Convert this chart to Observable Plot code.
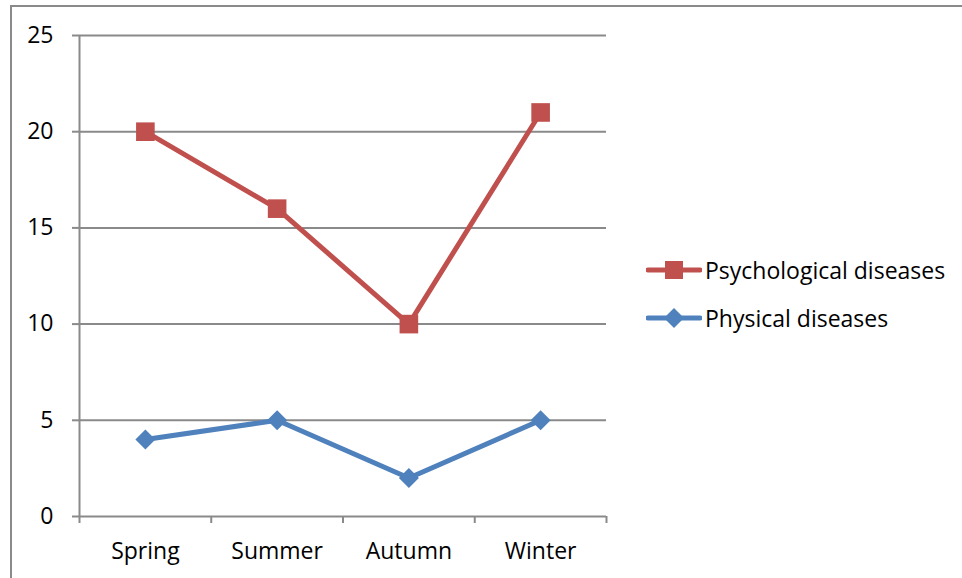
<!DOCTYPE html>
<html>
<head>
<meta charset="utf-8">
<script src="https://cdn.jsdelivr.net/npm/d3@7"></script>
<script src="https://cdn.jsdelivr.net/npm/@observablehq/plot@0.6"></script>
<style>
  html, body { margin: 0; padding: 0; background: #fff; }
  #wrap { position: relative; width: 962px; height: 578px; overflow: hidden; font-family: "Open Sans", sans-serif; }
  #frame { position: absolute; left: 10px; top: 5px; width: 1000px; height: 1000px; border-left: 2px solid #8a8a8a; border-top: 2px solid #8a8a8a; box-sizing: border-box; }
  #chart { position: absolute; left: 0; top: 0; }
  #legend { position: absolute; left: 646px; top: 246px; font-size: 23px; color: #000; }
  .item { display: flex; align-items: center; height: 48px; }
  .item svg { margin-right: 3px; }
</style>
</head>
<body>
<div id="wrap">
  <div id="frame"></div>
  <div id="chart"></div>
  <div id="legend"></div>
</div>
<script>
const categories = ["Spring", "Summer", "Autumn", "Winter"];
const psychological = [20, 16, 10, 21];
const physical = [4, 5, 2, 5];
const yTicks = [0, 5, 10, 15, 20, 25];
const seriesNames = ["Psychological diseases", "Physical diseases"];
const seriesColors = ["#C0504D", "#4F81BD"];

const rows = [];
categories.forEach((c, i) => {
  rows.push({cat: c, pos: i + 0.5, value: psychological[i], series: seriesNames[0]});
});
categories.forEach((c, i) => {
  rows.push({cat: c, pos: i + 0.5, value: physical[i], series: seriesNames[1]});
});
const psy = rows.filter(d => d.series === seriesNames[0]);
const phy = rows.filter(d => d.series === seriesNames[1]);
const boundaries = d3.range(categories.length + 1);
const centers = categories.map((c, i) => i + 0.5);

const chart = Plot.plot({
  width: 962,
  height: 578,
  marginLeft: 79,
  marginRight: 356,
  marginTop: 35,
  marginBottom: 62,
  style: {fontFamily: "Open Sans, sans-serif", fontSize: "23px", color: "#000", background: "transparent"},
  x: {type: "linear", domain: [0, categories.length]},
  y: {domain: [0, 25]},
  marks: [
    Plot.gridY(yTicks, {stroke: "#8a8a8a", strokeOpacity: 1, strokeWidth: 2}),
    Plot.ruleX([0], {y1: 0, y2: 25, stroke: "#8a8a8a", strokeWidth: 2}),
    Plot.axisY(yTicks, {tickSize: 7, tickPadding: 19, stroke: "#8a8a8a", strokeWidth: 2, label: null, fill: "#000"}),
    Plot.axisX(boundaries, {tickSize: 7, tickFormat: () => "", stroke: "#8a8a8a", strokeWidth: 2, label: null}),
    Plot.axisX(centers, {tickSize: 0, tickPadding: 26, tickFormat: (d) => categories[Math.floor(d)], label: null, fill: "#000"}),
    Plot.line(psy, {x: "pos", y: "value", stroke: seriesColors[0], strokeWidth: 5}),
    Plot.line(phy, {x: "pos", y: "value", stroke: seriesColors[1], strokeWidth: 5}),
    Plot.dot(psy, {x: "pos", y: "value", symbol: "square", r: 10.5, fill: seriesColors[0], stroke: null}),
    Plot.dot(phy, {x: "pos", y: "value", symbol: "diamond2", r: 9, fill: seriesColors[1], stroke: null})
  ]
});
document.getElementById("chart").appendChild(chart);

const legend = document.getElementById("legend");
seriesNames.forEach((name, i) => {
  const item = document.createElement("div");
  item.className = "item";
  const marker = i === 0
    ? `<rect x="19" y="7" width="18" height="18" fill="${seriesColors[i]}"/>`
    : `<path d="M28 6 L38 16 L28 26 L18 16 Z" fill="${seriesColors[i]}"/>`;
  item.innerHTML = `<svg width="56" height="32"><line x1="2" x2="54" y1="16" y2="16" stroke="${seriesColors[i]}" stroke-width="5" stroke-linecap="round"/>${marker}</svg><span>${name}</span>`;
  legend.appendChild(item);
});
</script>
</body>
</html>
